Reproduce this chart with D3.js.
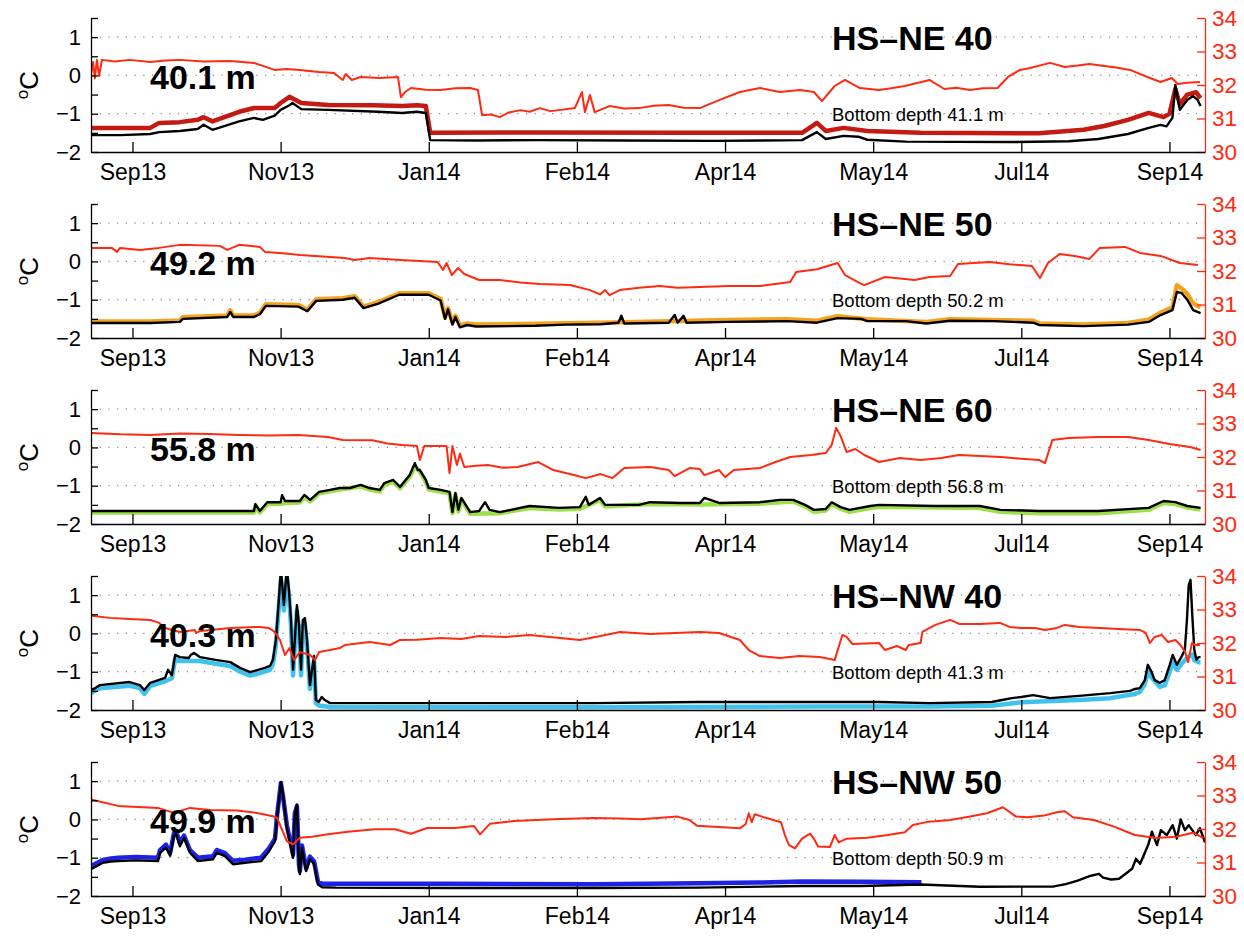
<!DOCTYPE html>
<html>
<head>
<meta charset="utf-8">
<script src="https://cdn.jsdelivr.net/npm/d3@7"></script>
<style>
  body { margin: 0; background: #fff; }
  text { font-family: "Liberation Sans", Arial, Helvetica, sans-serif; }
</style>
</head>
<body>
<script>
// time is in days after 9 Sep 2013
const stations = ["HS\u2013NE 40", "HS\u2013NE 50", "HS\u2013NE 60", "HS\u2013NW 40", "HS\u2013NW 50"];
const sensorDepths = ["40.1 m", "49.2 m", "55.8 m", "40.3 m", "49.9 m"];
const bottomDepths = ["Bottom depth 41.1 m", "Bottom depth 50.2 m", "Bottom depth 56.8 m", "Bottom depth 41.3 m", "Bottom depth 50.9 m"];
const timeTickDays = [14, 64, 114, 164, 214, 264, 314, 364];
const timeTickLabels = ["Sep13", "Nov13", "Jan14", "Feb14", "Apr14", "May14", "Jul14", "Sep14"];
const tempTicks = [-2, -1.5, -1, -0.5, 0, 0.5, 1, 1.5];
const salTicks = [30, 31, 32, 33, 34];

// HS-NE 40
const ne40Sal = [[0,32.3],[0.7,32.69],[1.3,32.2],[2,32.75],[2.7,32.27],[3.7,32.75],[8,32.7],[13,32.75],[20,32.69],[25,32.73],[30,32.75],[38,32.7],[47,32.72],[55,32.66],[59,32.54],[62,32.45],[66,32.48],[70.5,32.45],[77,32.39],[82,32.36],[85,32.15],[86,32.33],[88,32.15],[91,32.24],[97.5,32.21],[103.6,32.24],[104.6,31.64],[106,31.79],[108,31.91],[113,31.86],[118,31.85],[123,31.9],[128,31.91],[130.6,31.85],[132,31.1],[135,31.12],[138,31.04],[141,31.18],[145,31.25],[148,31.2],[151.5,31.31],[155,31.22],[158,31.25],[163.3,31.31],[165.7,31.79],[166.7,31.19],[168.4,31.7],[170,31.19],[175,31.37],[180,31.3],[185,31.31],[190,31.38],[195,31.4],[200,31.32],[205.5,31.31],[212,31.55],[219,31.79],[225.8,31.91],[232.5,31.79],[239.3,31.85],[244,31.79],[246.7,31.52],[251,31.97],[254.5,32.15],[259.5,31.91],[266,31.85],[270,31.9],[274.7,31.97],[283,32.15],[288,31.88],[292,31.92],[296.7,31.85],[301,31.9],[306,31.91],[309.5,32.24],[313.5,32.45],[317,32.51],[323.7,32.66],[328.7,32.54],[333,32.58],[337,32.63],[342,32.57],[346,32.52],[350.7,32.45],[357.4,32.21],[361,32.09],[364.8,32.21],[366.8,32.03],[370,32.07],[374.3,32.09]];
const ne40Temp = [[0,-1.37],[20,-1.37],[23,-1.24],[30,-1.22],[36,-1.16],[38,-1.09],[41,-1.2],[50,-0.95],[55,-0.85],[62,-0.85],[64,-0.72],[67,-0.56],[71,-0.72],[80,-0.77],[95,-0.78],[105,-0.8],[110,-0.78],[113,-0.8],[114.5,-1.5],[150,-1.49],[200,-1.5],[240,-1.5],[245,-1.24],[248,-1.45],[254,-1.37],[262,-1.45],[280,-1.5],[320,-1.51],[335,-1.42],[342,-1.32],[350,-1.16],[357,-0.98],[362,-1.09],[364,-1.0],[366,-0.35],[367.5,-0.75],[370,-0.5],[373,-0.44],[374.5,-0.59]];
const ne40Ref = [[0,-1.56],[10,-1.56],[20,-1.53],[23,-1.48],[30,-1.45],[36,-1.4],[38,-1.29],[41,-1.42],[50,-1.2],[55,-1.11],[58,-1.16],[62,-1.05],[64,-0.9],[67,-0.78],[68,-0.72],[71,-0.88],[80,-0.9],[97,-0.95],[105,-0.98],[110,-0.95],[113,-0.98],[114.5,-1.69],[130,-1.7],[150,-1.69],[180,-1.7],[210,-1.71],[240,-1.69],[245,-1.48],[248,-1.66],[254,-1.58],[259,-1.6],[262,-1.68],[275,-1.73],[310,-1.74],[330,-1.72],[340,-1.66],[350,-1.53],[357,-1.37],[361,-1.29],[363,-1.33],[365,-1.11],[366,-0.25],[367.5,-0.9],[370,-0.64],[372,-0.54],[373.5,-0.64],[374.5,-0.8]];

// HS-NE 50
const ne50Sal = [[0,32.69],[7,32.69],[8.8,32.57],[9.8,32.69],[16.5,32.63],[23,32.69],[30,32.78],[43.5,32.75],[46,32.63],[50,32.78],[57,32.72],[58.7,32.57],[63.8,32.54],[70.5,32.48],[80.7,32.42],[85.7,32.39],[89,32.33],[94,32.39],[104.3,32.33],[111,32.3],[117,32.27],[118.8,32.03],[120,32.24],[121.8,31.88],[123.9,32.09],[126,31.91],[131,31.73],[138,31.73],[145,31.66],[151.5,31.61],[161.7,31.58],[168.4,31.43],[171.8,31.3],[173.5,31.43],[175,31.28],[178.5,31.43],[185,31.5],[192,31.55],[198,31.5],[205.5,31.52],[215,31.55],[225.8,31.55],[236,31.67],[238,31.97],[245,32.05],[252,32.24],[254.5,31.88],[259.5,31.64],[261,31.58],[268,31.82],[278,31.73],[283,31.82],[290,31.85],[292.6,32.21],[303.4,32.27],[310,32.2],[317.6,32.15],[320.3,31.79],[323,32.24],[327,32.51],[332,32.45],[337,32.36],[340.5,32.69],[349,32.72],[354,32.54],[361,32.45],[367.5,32.24],[373.6,32.18]];
const ne50Temp = [[0,-1.57],[20,-1.57],[30,-1.54],[31,-1.46],[46,-1.41],[47,-1.28],[48,-1.41],[55,-1.41],[57,-1.34],[59,-1.12],[70,-1.14],[73,-1.26],[76,-0.99],[85,-0.96],[89,-0.91],[92,-1.18],[97,-1.06],[104,-0.83],[114,-0.83],[118,-0.98],[119.5,-1.46],[120.5,-1.22],[122,-1.6],[123,-1.42],[124.5,-1.67],[127,-1.62],[130,-1.65],[150,-1.63],[172,-1.6],[195,-1.56],[215,-1.53],[235,-1.51],[245,-1.55],[252,-1.43],[262,-1.51],[282,-1.58],[290,-1.51],[318,-1.55],[320,-1.62],[335,-1.65],[350,-1.61],[357,-1.52],[361,-1.34],[365,-1.2],[366.5,-0.62],[368,-0.7],[370,-0.85],[372,-1.1],[374.5,-1.2]];
const ne50Ref = [[0,-1.61],[20,-1.61],[30,-1.58],[31,-1.5],[46,-1.45],[47,-1.32],[48,-1.45],[55,-1.45],[57,-1.38],[59,-1.16],[70,-1.18],[73,-1.3],[76,-1.03],[85,-1.0],[89,-0.95],[92,-1.22],[97,-1.1],[104,-0.87],[114,-0.87],[118,-1.02],[119.5,-1.5],[120.5,-1.25],[122,-1.65],[123,-1.45],[124.5,-1.72],[127,-1.66],[130,-1.7],[150,-1.68],[160,-1.65],[172,-1.64],[178,-1.6],[179,-1.42],[180,-1.62],[195,-1.6],[197,-1.4],[198,-1.6],[200,-1.42],[201,-1.6],[215,-1.58],[235,-1.56],[245,-1.6],[252,-1.48],[260,-1.5],[262,-1.56],[275,-1.56],[282,-1.62],[290,-1.55],[305,-1.56],[318,-1.6],[320,-1.66],[335,-1.69],[350,-1.65],[357,-1.58],[361,-1.4],[365,-1.27],[366.5,-0.8],[368,-0.82],[370,-1.0],[372,-1.27],[374.5,-1.35]];

// HS-NE 60
const ne60Sal = [[0,32.72],[10,32.68],[20,32.66],[30,32.7],[40,32.69],[50,32.66],[60,32.64],[70,32.66],[80,32.6],[85,32.51],[95,32.5],[100,32.4],[105,32.36],[110,32.33],[111,31.91],[112.5,32.33],[120,32.33],[121,31.52],[122,32.33],[123.5,31.76],[124.5,32.1],[126,31.7],[130,31.74],[134,31.76],[139,31.68],[144,31.7],[151,31.85],[156,31.61],[163,31.46],[167,31.37],[172,31.49],[176,31.37],[180,31.67],[188.7,31.7],[195,31.61],[197,31.43],[202,31.67],[205.5,31.64],[207,31.46],[212,31.61],[214,31.4],[217,31.61],[225.8,31.67],[231,31.85],[236,32.0],[243,32.06],[248,32.12],[250,32.36],[251.5,32.87],[253,32.63],[255,32.15],[258,32.24],[261,32.06],[266,31.85],[273,31.97],[280,31.91],[287,31.97],[293,32.06],[300,32.03],[307,32.0],[314,31.95],[320,31.91],[322,31.82],[324.5,32.51],[330,32.57],[340,32.6],[350,32.6],[357,32.51],[364,32.39],[371,32.3],[374.5,32.21]];
const ne60Temp = [[0,-1.7],[55,-1.7],[55.5,-1.53],[57,-1.7],[59.5,-1.48],[64,-1.47],[65.5,-1.45],[70.5,-1.44],[72,-1.3],[74,-1.41],[77,-1.2],[84,-1.1],[91,-1.02],[94,-1.1],[97.5,-1.15],[99,-0.98],[102,-0.9],[104.3,-1.07],[107.6,-0.77],[109.3,-0.5],[111,-0.63],[113,-0.9],[114,-1.1],[121,-1.2],[122,-1.72],[123,-1.24],[124,-1.67],[125,-1.37],[128,-1.73],[138,-1.72],[148,-1.58],[158,-1.62],[165,-1.6],[171.8,-1.38],[173.5,-1.54],[188.7,-1.48],[205.5,-1.49],[225.8,-1.47],[237,-1.41],[241,-1.54],[244,-1.68],[248,-1.65],[250,-1.48],[253,-1.6],[256,-1.68],[263,-1.58],[266,-1.55],[300,-1.58],[307,-1.68],[320,-1.72],[340,-1.72],[357,-1.63],[362,-1.45],[366,-1.48],[370,-1.57],[374.5,-1.62]];
const ne60Ref = [[0,-1.66],[40,-1.66],[55,-1.66],[55.5,-1.48],[57,-1.66],[59.5,-1.43],[64,-1.43],[64.5,-1.25],[65.5,-1.4],[70.5,-1.4],[72,-1.24],[74,-1.37],[77,-1.16],[80.7,-1.11],[84,-1.06],[87.4,-1.06],[91,-0.98],[94,-1.06],[97.5,-1.11],[99,-0.93],[102,-0.85],[104.3,-1.03],[107.6,-0.72],[109.3,-0.41],[110.3,-0.59],[111,-0.59],[113,-0.85],[114,-1.06],[118,-1.11],[121,-1.16],[122,-1.69],[123,-1.19],[124,-1.63],[125,-1.32],[128,-1.69],[131,-1.66],[133,-1.43],[134.5,-1.63],[138,-1.69],[148,-1.53],[158,-1.58],[165,-1.56],[167,-1.29],[168,-1.5],[171.8,-1.32],[173.5,-1.5],[185,-1.5],[188.7,-1.43],[199,-1.45],[205.5,-1.45],[207,-1.32],[212,-1.45],[225.8,-1.43],[232.5,-1.37],[237,-1.37],[241,-1.5],[244,-1.63],[248,-1.61],[250,-1.43],[253,-1.56],[256,-1.63],[263,-1.53],[266,-1.5],[285,-1.53],[300,-1.53],[307,-1.63],[320,-1.66],[340,-1.66],[357,-1.58],[362,-1.4],[366,-1.43],[370,-1.53],[374.5,-1.58]];

// HS-NW 40
const nw40Sal = [[0,32.81],[6.4,32.75],[13,32.72],[20,32.69],[23,32.6],[25,32.45],[30,32.33],[35,32.39],[35.5,32.3],[37,32.36],[47,32.45],[57,32.48],[60,32.45],[62,32.33],[63.8,32.09],[65.5,31.64],[67,31.85],[68.5,31.49],[70.5,31.73],[74,31.64],[75.6,31.49],[77,31.73],[80.7,31.79],[84,31.85],[85.7,31.94],[94,32.03],[101,31.94],[104.3,32.09],[110,32.1],[118,32.15],[125,32.12],[131,32.21],[140,32.18],[148,32.24],[155,32.18],[165,32.09],[172,32.21],[178.5,32.33],[188.7,32.27],[197,32.3],[205.5,32.33],[212,32.3],[219,32.09],[222,31.79],[225.8,31.61],[232.5,31.55],[239,31.61],[246,31.58],[251,31.49],[253.6,32.24],[255,32.18],[257,31.97],[266,32.0],[268,31.79],[272,31.91],[275,31.79],[276,31.94],[280,32.0],[280.6,32.33],[285,32.54],[290,32.69],[293,32.57],[300,32.57],[306.8,32.6],[310,32.48],[313.9,32.45],[318.6,32.45],[322,32.39],[326,32.45],[328.7,32.54],[333.5,32.48],[340.5,32.45],[347,32.42],[354,32.39],[356,32.3],[357.4,32.0],[359,32.18],[361.4,32.24],[363.5,32.03],[366,32.09],[367.7,31.94],[369.3,31.73],[370.3,31.43],[371.6,32.0],[372.6,31.94],[374.3,31.94]];
const nw40Temp = [[0,-1.56],[3,-1.43],[13,-1.37],[16.5,-1.43],[18,-1.58],[20,-1.37],[25,-1.25],[27.3,-1.17],[28.4,-0.66],[30,-0.72],[36.8,-0.72],[42,-0.79],[47,-0.85],[50.3,-1.0],[53.7,-1.1],[56.4,-1.05],[60.4,-0.95],[61.4,-0.8],[62.4,-0.3],[63.4,0.7],[64.1,1.4],[65.1,0.6],[66.1,1.45],[66.8,1.0],[67.5,0.2],[68.2,-1.1],[68.8,-0.3],[69.5,0.6],[70.2,0.1],[70.9,-1.1],[71.5,0.2],[72.2,0.25],[72.9,-0.3],[73.9,-1.45],[74.6,-1.05],[75.3,-0.7],[75.9,-1.82],[76.9,-1.88],[80.7,-1.92],[170,-1.93],[245,-1.91],[283,-1.91],[304,-1.89],[314,-1.8],[333.5,-1.74],[344,-1.69],[352.4,-1.58],[354,-1.53],[355.7,-1.32],[356.7,-1.0],[358,-1.15],[360.8,-1.4],[362.4,-1.35],[364.1,-1.0],[365.1,-0.75],[366.5,-0.95],[368.2,-0.78],[369.2,-0.7],[370.5,-0.6],[371.8,-0.55],[372.4,-0.7],[373.8,-0.75],[374.5,-0.75]];
const nw40Ref = [[0,-1.48],[1.4,-1.43],[3,-1.35],[13,-1.27],[16.5,-1.35],[18,-1.48],[20,-1.29],[25,-1.16],[26,-0.95],[27.3,-1.09],[28.4,-0.56],[30,-0.62],[33,-0.64],[33.7,-0.56],[34.8,-0.51],[36.8,-0.62],[42,-0.69],[47,-0.75],[50.3,-0.9],[53.7,-1.01],[56.4,-0.95],[58.7,-0.9],[60.4,-0.85],[61.4,-0.69],[62.4,-0.17],[63.4,0.87],[64.1,1.7],[65.1,0.74],[66.1,1.7],[66.8,1.13],[67.5,0.35],[68.2,-0.95],[68.8,-0.17],[69.5,0.74],[70.2,0.22],[70.9,-0.95],[71.5,0.35],[72.2,0.4],[72.9,-0.17],[73.9,-1.35],[74.6,-0.95],[75.3,-0.59],[75.9,-1.74],[76.9,-1.79],[77.9,-1.66],[78.9,-1.74],[80.7,-1.82],[120,-1.82],[170,-1.82],[205,-1.79],[222,-1.79],[245,-1.79],[266,-1.79],[283,-1.82],[304,-1.79],[307.5,-1.74],[310.8,-1.69],[314,-1.66],[318,-1.61],[323.7,-1.69],[333.5,-1.63],[344,-1.56],[350.7,-1.5],[352.4,-1.45],[354,-1.43],[355.7,-1.22],[356.7,-0.82],[358,-1.01],[359,-1.22],[360.8,-1.29],[362.4,-1.22],[364.1,-0.82],[365.1,-0.56],[366.5,-0.82],[368.2,-0.59],[369.2,-0.43],[369.9,0.35],[370.5,1.26],[371.1,1.4],[371.8,0.35],[372.4,-0.43],[373.1,-0.69],[373.8,-0.62],[374.5,-0.62]];

// HS-NW 50
const nw50Sal = [[0,32.88],[9.1,32.69],[22.6,32.63],[28,32.48],[33.4,32.63],[40.2,32.57],[49.3,32.55],[56,32.48],[61.4,32.38],[62.8,32.33],[64.1,32.06],[66.1,31.64],[68.2,31.54],[70.5,31.74],[74.6,31.77],[80,31.84],[86.7,31.92],[95.8,31.99],[102.6,31.99],[108,31.86],[113.4,32.03],[122.8,32.03],[129.3,32.09],[131.3,31.84],[134.7,32.16],[142.8,32.24],[156,32.29],[169.4,32.33],[178.5,32.31],[185.6,32.29],[198,32.37],[202,32.27],[204.5,32.1],[219,32.02],[221,32.15],[222,32.47],[223,32.2],[224,32.44],[226.5,32.37],[232.9,32.2],[234.2,31.82],[235.6,31.52],[237.6,31.42],[240,31.71],[242.7,31.86],[244,31.71],[245.4,31.48],[249.4,31.46],[251,31.82],[252.4,31.6],[255,31.71],[262,31.74],[269,31.82],[274.7,31.9],[277.4,32.12],[282.8,32.22],[290,32.27],[296.7,32.37],[302.4,32.47],[307.8,32.65],[312.2,32.37],[316.2,32.35],[321.6,32.4],[326,32.5],[328.7,32.53],[331.4,32.35],[338.5,32.27],[345.3,32.07],[352.3,31.82],[359.4,31.73],[366.2,31.77],[371.9,31.89],[375.5,31.73]];
const nw50Temp = [[0,-1.22],[4,-1.06],[6.75,-1.02],[9.1,-1.0],[15,-0.98],[22.6,-1.0],[23.3,-0.8],[25.3,-0.66],[26.7,-0.88],[28,-0.36],[28.7,-0.3],[30,-0.62],[31.4,-0.42],[33.4,-0.8],[36.1,-1.0],[41.2,-0.96],[42.5,-0.8],[45.2,-0.88],[47.9,-1.08],[52,-1.05],[57.4,-1.0],[60.1,-0.75],[62.1,-0.5],[62.8,0.1],[64.1,0.95],[64.8,0.6],[66.1,-0.15],[67.5,-0.66],[68.2,-0.92],[68.8,0.15],[69.5,0.35],[70.2,-1.18],[70.5,-1.35],[71.2,-0.68],[72.6,-1.28],[73.9,-0.97],[75.3,-1.1],[76.6,-1.62],[78,-1.68],[120,-1.68],[170,-1.69],[205,-1.67],[225,-1.65],[240,-1.62],[260,-1.63],[280.3,-1.64]];
const nw50Ref = [[0,-1.3],[4,-1.13],[6.75,-1.1],[9.1,-1.09],[15,-1.07],[22.6,-1.09],[23.3,-0.87],[25.3,-0.74],[26.7,-0.95],[28,-0.43],[28.7,-0.37],[30,-0.7],[31.4,-0.48],[33.4,-0.87],[36.1,-1.09],[41.2,-1.04],[42.5,-0.87],[45.2,-0.96],[47.9,-1.17],[52,-1.13],[57.4,-1.09],[60.1,-0.83],[62.1,-0.57],[62.8,0.04],[64.1,0.97],[64.8,0.65],[66.1,-0.22],[67.5,-0.74],[68.2,-1.0],[68.8,0.13],[69.5,0.39],[70.2,-1.26],[70.5,-1.43],[71.2,-0.74],[72.6,-1.35],[73.9,-1.04],[75.3,-1.17],[76.6,-1.7],[78,-1.77],[82.7,-1.78],[120,-1.79],[170,-1.79],[205,-1.78],[240,-1.74],[260,-1.74],[280,-1.7],[300,-1.76],[325,-1.75],[329,-1.69],[333,-1.6],[337.5,-1.47],[340.2,-1.42],[341.6,-1.52],[344.3,-1.57],[347,-1.55],[351.4,-1.29],[352.7,-1.03],[354.1,-1.16],[356.8,-0.67],[358.1,-0.32],[359.8,-0.67],[361.1,-0.28],[363.1,-0.41],[365.1,-0.15],[366.5,-0.5],[367.8,0.0],[369.2,-0.28],[370.5,-0.15],[372.9,-0.41],[374.3,-0.23],[376,-0.6]];

const salSeries = [ne40Sal, ne50Sal, ne60Sal, nw40Sal, nw50Sal];
const tempSeries = [ne40Temp, ne50Temp, ne60Temp, nw40Temp, nw50Temp];
const refSeries = [ne40Ref, ne50Ref, ne60Ref, nw40Ref, nw50Ref];
const tempColors = ["#c41a12", "#f5a11c", "#9de04a", "#3fc2ee", "#1e22e6"];

const t0 = Date.UTC(2013, 8, 9);
const dayToDate = d => new Date(t0 + d * 864e5);

const svg = d3.select("body").append("svg")
  .attr("width", 1244)
  .attr("height", 936);

const x = d3.scaleUtc()
  .domain([dayToDate(0), dayToDate(376)])
  .range([91, 1205]);

const panelH = 134;

stations.forEach((name, i) => {
  const top = 18 + 186 * i;
  const bottom = top + panelH;
  const y = d3.scaleLinear().domain([-2, 1.5]).range([bottom, top]);
  const yS = d3.scaleLinear().domain([30, 34]).range([bottom, top]);
  const g = svg.append("g");

  g.append("clipPath").attr("id", "clip" + i)
    .append("rect")
    .attr("x", 91).attr("y", top)
    .attr("width", 1205 - 91).attr("height", panelH);

  // dotted grid
  g.append("g").selectAll("line")
    .data([-1, 0, 1])
    .enter().append("line")
    .attr("x1", 91).attr("x2", 1205)
    .attr("y1", d => y(d)).attr("y2", d => y(d))
    .attr("stroke", "#888")
    .attr("stroke-width", 1.2)
    .attr("stroke-dasharray", "1.2,7.5");

  const lines = g.append("g").attr("clip-path", "url(#clip" + i + ")");
  const tLine = d3.line().x(d => x(dayToDate(d[0]))).y(d => y(d[1]));
  const sLine = d3.line().x(d => x(dayToDate(d[0]))).y(d => yS(d[1]));

  lines.append("path")
    .attr("d", tLine(tempSeries[i]))
    .attr("fill", "none")
    .attr("stroke", tempColors[i])
    .attr("stroke-width", 4.5)
    .attr("stroke-linejoin", "round");
  lines.append("path")
    .attr("d", tLine(refSeries[i]))
    .attr("fill", "none")
    .attr("stroke", "#000")
    .attr("stroke-width", 2.4)
    .attr("stroke-linejoin", "round");
  lines.append("path")
    .attr("d", sLine(salSeries[i]))
    .attr("fill", "none")
    .attr("stroke", "#ff2a12")
    .attr("stroke-width", 2)
    .attr("stroke-linejoin", "round");

  // left axis
  const la = g.append("g")
    .attr("transform", "translate(91,0)")
    .call(d3.axisLeft(y).tickValues(tempTicks).tickSize(-7).tickSizeOuter(0).tickPadding(10)
      .tickFormat(d => Number.isInteger(d) ? d3.format("d")(d) : ""));
  la.selectAll("text").attr("font-size", 22).attr("fill", "#000");
  la.selectAll("line, path").attr("stroke", "#000").attr("stroke-width", 1.3);

  // right axis
  const ra = g.append("g")
    .attr("transform", "translate(1205,0)")
    .call(d3.axisRight(yS).tickValues(salTicks).tickSize(-8).tickSizeOuter(0).tickPadding(7)
      .tickFormat(d3.format("d")));
  ra.selectAll("text").attr("font-size", 22.5).attr("fill", "#ff2a12");
  ra.selectAll("line, path").attr("stroke", "#ff2a12").attr("stroke-width", 1.3);

  // bottom axis
  const ba = g.append("g")
    .attr("transform", "translate(0," + bottom + ")")
    .call(d3.axisBottom(x).tickValues(timeTickDays.map(dayToDate)).tickSize(-10).tickSizeOuter(0).tickPadding(12)
      .tickFormat((d, k) => timeTickLabels[k]));
  ba.selectAll("text").attr("font-size", 23).attr("fill", "#000");
  ba.selectAll("line, path").attr("stroke", "#000").attr("stroke-width", 1.3);

  // y label
  const yl = g.append("text")
    .attr("transform", "translate(38," + (top + 67) + ") rotate(-90)")
    .attr("text-anchor", "middle");
  yl.append("tspan").attr("font-size", 17).attr("dy", -10).text("o");
  yl.append("tspan").attr("font-size", 26).attr("dy", 10).text("C");

  g.append("text")
    .attr("x", 832).attr("y", top + 32)
    .attr("font-size", 34).attr("font-weight", "bold")
    .text(name);
  g.append("text")
    .attr("x", 150).attr("y", top + 71)
    .attr("font-size", 34).attr("font-weight", "bold")
    .text(sensorDepths[i]);
  g.append("text")
    .attr("x", 832).attr("y", top + 103)
    .attr("font-size", 18.5)
    .text(bottomDepths[i]);
});
</script>
</body>
</html>
